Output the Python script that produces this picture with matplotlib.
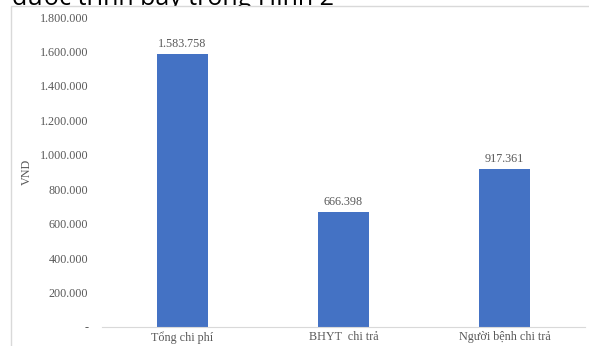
import matplotlib.pyplot as plt
from matplotlib.patches import Rectangle
from matplotlib.ticker import FuncFormatter

# data
categories = ["Tổng chi phí", "BHYT  chi trả", "Người bệnh chi trả"]
values = [1583758, 666398, 917361]
yticks = [0, 200000, 400000, 600000, 800000, 1000000, 1200000, 1400000, 1600000, 1800000]

def vn_fmt(v, pos=None):
    if v == 0:
        return "-"
    return f"{int(round(v)):,}".replace(",", ".")

gray = "#595959"
fig = plt.figure(figsize=(5.89, 3.46), dpi=100)

# clipped document text above the chart (cut off in the original too)
fig.text(12 / 589, 1 - 5 / 346, "được trình bày trong Hình 2", family="Open Sans",
         fontsize=18, color="black", va="baseline", ha="left", zorder=1)
# chart area box covering the rest
fig.patches.append(Rectangle((11 / 589, -0.1), 1.0, 1 - 6 / 346 + 0.1, transform=fig.transFigure,
                             facecolor="white", edgecolor="#d9d9d9", linewidth=1, zorder=2))

ax = fig.add_axes([102 / 589, 19 / 346, 483 / 589, 310 / 346])
ax.set_zorder(5)
ax.patch.set_alpha(0)

x = range(len(categories))
ax.bar(x, values, width=0.317, color="#4472C4")
for i, v in enumerate(values):
    ax.text(i, v + 25000, vn_fmt(v), ha="center", va="bottom", family="Liberation Serif",
            fontsize=8.7, color=gray)

ax.set_xlim(-0.5, 2.5)
ax.set_ylim(0, 1800000)
ax.set_yticks(yticks)
ax.yaxis.set_major_formatter(FuncFormatter(vn_fmt))
ax.set_xticks(list(x))
ax.set_xticklabels(categories)
for lab in ax.get_xticklabels() + ax.get_yticklabels():
    lab.set_family("Liberation Serif")
    lab.set_fontsize(8.7)
    lab.set_color(gray)
ax.tick_params(axis="both", length=0)
ax.tick_params(axis="y", pad=10)
ax.tick_params(axis="x", pad=3)
for s in ["top", "right", "left"]:
    ax.spines[s].set_visible(False)
ax.spines["bottom"].set_color("#d9d9d9")
ax.set_ylabel("VND", family="Liberation Serif", fontsize=8.7, color=gray, labelpad=5)

fig.savefig("out.png", dpi=100)
